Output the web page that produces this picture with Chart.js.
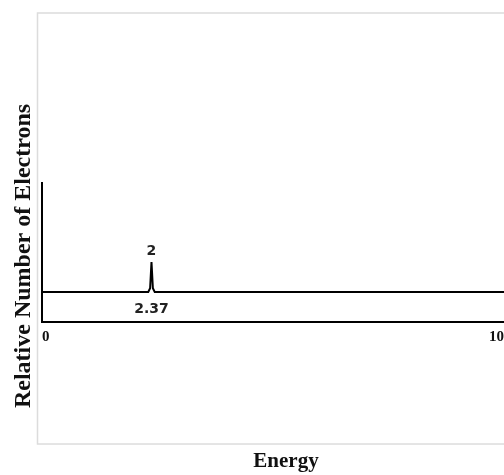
<!DOCTYPE html>
<html>
<head>
<meta charset="utf-8">
<script src="https://cdn.jsdelivr.net/npm/chart.js@4.4.1/dist/chart.umd.min.js"></script>
<style>
  html, body { margin: 0; padding: 0; background: #fff; overflow: hidden; }
  canvas { display: block; }
</style>
</head>
<body>
<canvas id="spectrum" width="504" height="475"></canvas>
<script>
// spectrum trace (energy, relative count)
const energies = [0, 2.30, 2.34, 2.37, 2.40, 2.44, 10];
const counts   = [0, 0,    0.25, 2,    0.25, 0,    0];

// labelled peaks
const peakEnergies = [2.37];
const peakCounts   = [2];

const xTicks = [0, 10];
const xTitle = 'Energy';
const yTitle = 'Relative Number of Electrons';

document.addEventListener("DOMContentLoaded", function() {
    const ctx = document.getElementById('spectrum').getContext('2d');

    const decorPlugin = {
        id: 'decor',
        beforeDraw(chart) {
            const c = chart.ctx;
            c.save();
            c.fillStyle = '#fff';
            c.fillRect(0, 0, chart.width, chart.height);
            c.strokeStyle = '#dcdcdc';
            c.lineWidth = 1.5;
            c.strokeRect(37.5, 13, 480, 431);
            c.restore();
        },
        afterDatasetsDraw(chart) {
            const c = chart.ctx;
            const xs = chart.scales.x, ys = chart.scales.y;
            c.save();
            c.fillStyle = '#222';
            c.font = 'bold 14px "DejaVu Sans"';
            c.textAlign = 'center';
            c.textBaseline = 'alphabetic';
            peakEnergies.forEach((e, i) => {
                const px = xs.getPixelForValue(e);
                c.fillText(String(peakCounts[i]), px, ys.getPixelForValue(peakCounts[i]) - 7);
                c.fillText(e.toFixed(2), px, ys.getPixelForValue(0) + 21);
            });
            c.restore();
        },
        afterDraw(chart) {
            const c = chart.ctx;
            c.save();
            c.fillStyle = '#111';
            c.textAlign = 'center';
            c.textBaseline = 'alphabetic';
            c.font = 'bold 21px "Liberation Serif"';
            c.fillText(xTitle, 286, 467);
            c.translate(30, 256);
            c.rotate(-Math.PI / 2);
            c.font = 'bold 24px "Liberation Serif"';
            c.fillText(yTitle, 0, 0);
            c.restore();
        }
    };

    new Chart(ctx, {
        type: 'line',
        data: {
            datasets: [{
                data: energies.map((e, i) => ({ x: e, y: counts[i] })),
                borderColor: '#000',
                borderWidth: 2,
                pointRadius: 0,
                tension: 0,
                fill: false
            }]
        },
        options: {
            responsive: false,
            animation: false,
            devicePixelRatio: 1,
            layout: { padding: { left: 42, top: 183, right: 0, bottom: 0 } },
            plugins: {
                legend: { display: false },
                tooltip: { enabled: false }
            },
            scales: {
                x: {
                    type: 'linear',
                    min: 0,
                    max: 10,
                    grid: { display: false, drawTicks: false },
                    border: { display: true, color: '#000', width: 2 },
                    afterBuildTicks: scale => { scale.ticks = xTicks.map(v => ({ value: v })); },
                    ticks: {
                        color: '#111',
                        align: 'inner',
                        padding: 6,
                        maxRotation: 0,
                        font: { family: 'Liberation Serif', weight: 'bold', size: 15 }
                    },
                    afterFit: scale => {
                        scale.height = 153;
                        scale.paddingLeft = 0;
                        scale.paddingRight = 0;
                    }
                },
                y: {
                    type: 'linear',
                    min: -2,
                    max: 7.27,
                    grid: { display: false, drawTicks: false },
                    border: { display: true, color: '#000', width: 2 },
                    ticks: { display: false },
                    afterFit: scale => { scale.width = 0; }
                }
            }
        },
        plugins: [decorPlugin]
    });
});
</script>
</body>
</html>
